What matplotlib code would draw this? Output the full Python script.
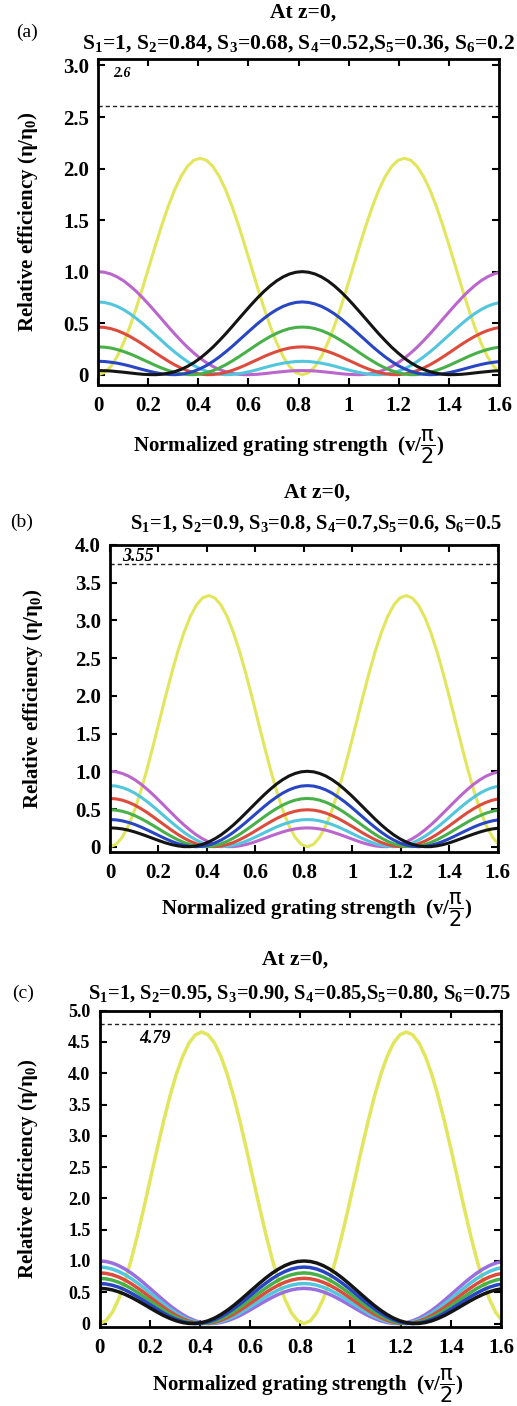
import numpy as np
import matplotlib
matplotlib.use('Agg')
import matplotlib.pyplot as plt

plt.rcParams['font.family'] = ['Liberation Serif', 'DejaVu Serif']
plt.rcParams['font.weight'] = 'bold'
plt.rcParams['mathtext.fontset'] = 'custom'
plt.rcParams['mathtext.rm'] = 'Liberation Serif:bold'
plt.rcParams['mathtext.bf'] = 'Liberation Serif:bold'
plt.rcParams['mathtext.it'] = 'DejaVu Sans:normal'
plt.rcParams['mathtext.sf'] = 'DejaVu Sans:normal'

# normalized grating strength grid (one period of the centre core ~0.815)
x = np.linspace(0, 1.63, 65)

# ---- panel (a): S = 1, 0.84, 0.68, 0.52, 0.36, 0.2
yel_a = [0.000, 0.020, 0.080, 0.177, 0.308, 0.467, 0.648, 0.845, 1.050, 1.255, 1.452, 1.633, 1.793, 1.923, 2.020, 2.080, 2.100,
         2.080, 2.020, 1.923, 1.793, 1.633, 1.452, 1.255, 1.050, 0.845, 0.648, 0.467, 0.308, 0.177, 0.080, 0.020, 0.000,
         0.020, 0.080, 0.177, 0.308, 0.467, 0.648, 0.845, 1.050, 1.255, 1.452, 1.633, 1.793, 1.923, 2.020, 2.080, 2.100,
         2.080, 2.020, 1.923, 1.793, 1.633, 1.452, 1.255, 1.050, 0.845, 0.648, 0.467, 0.308, 0.177, 0.080, 0.020, 0.000]
pur_a = [1.000, 0.994, 0.977, 0.949, 0.911, 0.863, 0.808, 0.746, 0.679, 0.609, 0.538, 0.466, 0.396, 0.330, 0.267, 0.211, 0.160,
         0.116, 0.080, 0.051, 0.029, 0.014, 0.004, 0.000, 0.001, 0.004, 0.010, 0.017, 0.024, 0.030, 0.036, 0.039, 0.040,
         0.039, 0.036, 0.030, 0.024, 0.017, 0.010, 0.004, 0.001, 0.000, 0.004, 0.014, 0.029, 0.051, 0.080, 0.116, 0.160,
         0.211, 0.267, 0.330, 0.396, 0.466, 0.538, 0.609, 0.679, 0.746, 0.808, 0.863, 0.911, 0.949, 0.977, 0.994, 1.000]
cya_a = [0.706, 0.701, 0.686, 0.663, 0.631, 0.592, 0.546, 0.495, 0.441, 0.385, 0.329, 0.273, 0.221, 0.172, 0.128, 0.089, 0.058,
         0.033, 0.015, 0.004, 0.000, 0.002, 0.009, 0.020, 0.034, 0.050, 0.067, 0.084, 0.099, 0.112, 0.121, 0.128, 0.130,
         0.128, 0.121, 0.112, 0.099, 0.084, 0.067, 0.050, 0.034, 0.020, 0.009, 0.002, 0.000, 0.004, 0.015, 0.033, 0.058,
         0.089, 0.128, 0.172, 0.221, 0.273, 0.329, 0.385, 0.441, 0.495, 0.546, 0.592, 0.631, 0.663, 0.686, 0.701, 0.706]
red_a = [0.462, 0.459, 0.447, 0.428, 0.402, 0.371, 0.335, 0.296, 0.254, 0.212, 0.171, 0.132, 0.096, 0.065, 0.039, 0.019, 0.006,
         0.000, 0.001, 0.009, 0.022, 0.041, 0.064, 0.090, 0.119, 0.147, 0.176, 0.202, 0.225, 0.244, 0.259, 0.267, 0.270,
         0.267, 0.259, 0.244, 0.225, 0.202, 0.176, 0.147, 0.119, 0.090, 0.064, 0.041, 0.022, 0.009, 0.001, 0.000, 0.006,
         0.019, 0.039, 0.065, 0.096, 0.132, 0.171, 0.212, 0.254, 0.296, 0.335, 0.371, 0.402, 0.428, 0.447, 0.459, 0.462]
grn_a = [0.270, 0.267, 0.259, 0.244, 0.225, 0.202, 0.176, 0.147, 0.119, 0.090, 0.064, 0.041, 0.022, 0.009, 0.001, 0.000, 0.006,
         0.019, 0.039, 0.065, 0.096, 0.132, 0.171, 0.212, 0.254, 0.296, 0.335, 0.371, 0.402, 0.428, 0.447, 0.459, 0.462,
         0.459, 0.447, 0.428, 0.402, 0.371, 0.335, 0.296, 0.254, 0.212, 0.171, 0.132, 0.096, 0.065, 0.039, 0.019, 0.006,
         0.000, 0.001, 0.009, 0.022, 0.041, 0.064, 0.090, 0.119, 0.147, 0.176, 0.202, 0.225, 0.244, 0.259, 0.267, 0.270]
blu_a = [0.130, 0.128, 0.121, 0.112, 0.099, 0.084, 0.067, 0.050, 0.034, 0.020, 0.009, 0.002, 0.000, 0.004, 0.015, 0.033, 0.058,
         0.089, 0.128, 0.172, 0.221, 0.273, 0.329, 0.385, 0.441, 0.495, 0.546, 0.592, 0.631, 0.663, 0.686, 0.701, 0.706,
         0.701, 0.686, 0.663, 0.631, 0.592, 0.546, 0.495, 0.441, 0.385, 0.329, 0.273, 0.221, 0.172, 0.128, 0.089, 0.058,
         0.033, 0.015, 0.004, 0.000, 0.002, 0.009, 0.020, 0.034, 0.050, 0.067, 0.084, 0.099, 0.112, 0.121, 0.128, 0.130]
blk_a = [0.040, 0.039, 0.036, 0.030, 0.024, 0.017, 0.010, 0.004, 0.001, 0.000, 0.004, 0.014, 0.029, 0.051, 0.080, 0.116, 0.160,
         0.211, 0.267, 0.330, 0.396, 0.466, 0.538, 0.609, 0.679, 0.746, 0.808, 0.863, 0.911, 0.949, 0.977, 0.994, 1.000,
         0.994, 0.977, 0.949, 0.911, 0.863, 0.808, 0.746, 0.679, 0.609, 0.538, 0.466, 0.396, 0.330, 0.267, 0.211, 0.160,
         0.116, 0.080, 0.051, 0.029, 0.014, 0.004, 0.000, 0.001, 0.004, 0.010, 0.017, 0.024, 0.030, 0.036, 0.039, 0.040]

# ---- panel (b): S = 1, 0.9, 0.8, 0.7, 0.6, 0.5
yel_b = [0.000, 0.032, 0.127, 0.281, 0.488, 0.740, 1.028, 1.340, 1.665, 1.990, 2.302, 2.590, 2.842, 3.049, 3.203, 3.298, 3.330,
         3.298, 3.203, 3.049, 2.842, 2.590, 2.302, 1.990, 1.665, 1.340, 1.028, 0.740, 0.488, 0.281, 0.127, 0.032, 0.000,
         0.032, 0.127, 0.281, 0.488, 0.740, 1.028, 1.340, 1.665, 1.990, 2.302, 2.590, 2.842, 3.049, 3.203, 3.298, 3.330,
         3.298, 3.203, 3.049, 2.842, 2.590, 2.302, 1.990, 1.665, 1.340, 1.028, 0.740, 0.488, 0.281, 0.127, 0.032, 0.000]
pur_b = [1.000, 0.993, 0.971, 0.937, 0.889, 0.831, 0.763, 0.689, 0.609, 0.527, 0.445, 0.364, 0.288, 0.219, 0.157, 0.105, 0.063,
         0.031, 0.011, 0.001, 0.001, 0.011, 0.028, 0.051, 0.079, 0.109, 0.140, 0.169, 0.196, 0.219, 0.236, 0.246, 0.250,
         0.246, 0.236, 0.219, 0.196, 0.169, 0.140, 0.109, 0.079, 0.051, 0.028, 0.011, 0.001, 0.001, 0.011, 0.031, 0.063,
         0.105, 0.157, 0.219, 0.288, 0.364, 0.445, 0.527, 0.609, 0.689, 0.763, 0.831, 0.889, 0.937, 0.971, 0.993, 1.000]
cya_b = [0.810, 0.804, 0.784, 0.753, 0.711, 0.658, 0.599, 0.533, 0.463, 0.392, 0.321, 0.254, 0.191, 0.135, 0.088, 0.050, 0.023,
         0.006, 0.000, 0.005, 0.019, 0.041, 0.071, 0.106, 0.145, 0.185, 0.224, 0.262, 0.295, 0.322, 0.343, 0.356, 0.360,
         0.356, 0.343, 0.322, 0.295, 0.262, 0.224, 0.185, 0.145, 0.106, 0.071, 0.041, 0.019, 0.005, 0.000, 0.006, 0.023,
         0.050, 0.088, 0.135, 0.191, 0.254, 0.321, 0.392, 0.463, 0.533, 0.599, 0.658, 0.711, 0.753, 0.784, 0.804, 0.810]
red_b = [0.640, 0.634, 0.617, 0.589, 0.552, 0.506, 0.454, 0.397, 0.337, 0.277, 0.218, 0.163, 0.114, 0.072, 0.039, 0.015, 0.003,
         0.001, 0.009, 0.028, 0.056, 0.092, 0.135, 0.181, 0.231, 0.281, 0.329, 0.374, 0.413, 0.446, 0.470, 0.485, 0.490,
         0.485, 0.470, 0.446, 0.413, 0.374, 0.329, 0.281, 0.231, 0.181, 0.135, 0.092, 0.056, 0.028, 0.009, 0.001, 0.003,
         0.015, 0.039, 0.072, 0.114, 0.163, 0.218, 0.277, 0.337, 0.397, 0.454, 0.506, 0.552, 0.589, 0.617, 0.634, 0.640]
grn_b = [0.490, 0.485, 0.470, 0.446, 0.413, 0.374, 0.329, 0.281, 0.231, 0.181, 0.135, 0.092, 0.056, 0.028, 0.009, 0.001, 0.003,
         0.015, 0.039, 0.072, 0.114, 0.163, 0.218, 0.277, 0.337, 0.397, 0.454, 0.506, 0.552, 0.589, 0.617, 0.634, 0.640,
         0.634, 0.617, 0.589, 0.552, 0.506, 0.454, 0.397, 0.337, 0.277, 0.218, 0.163, 0.114, 0.072, 0.039, 0.015, 0.003,
         0.001, 0.009, 0.028, 0.056, 0.092, 0.135, 0.181, 0.231, 0.281, 0.329, 0.374, 0.413, 0.446, 0.470, 0.485, 0.490]
blu_b = [0.360, 0.356, 0.343, 0.322, 0.295, 0.262, 0.224, 0.185, 0.145, 0.106, 0.071, 0.041, 0.019, 0.005, 0.000, 0.006, 0.023,
         0.050, 0.088, 0.135, 0.191, 0.254, 0.321, 0.392, 0.463, 0.533, 0.599, 0.658, 0.711, 0.753, 0.784, 0.804, 0.810,
         0.804, 0.784, 0.753, 0.711, 0.658, 0.599, 0.533, 0.463, 0.392, 0.321, 0.254, 0.191, 0.135, 0.088, 0.050, 0.023,
         0.006, 0.000, 0.005, 0.019, 0.041, 0.071, 0.106, 0.145, 0.185, 0.224, 0.262, 0.295, 0.322, 0.343, 0.356, 0.360]
blk_b = [0.250, 0.246, 0.236, 0.219, 0.196, 0.169, 0.140, 0.109, 0.079, 0.051, 0.028, 0.011, 0.001, 0.001, 0.011, 0.031, 0.063,
         0.105, 0.157, 0.219, 0.288, 0.364, 0.445, 0.527, 0.609, 0.689, 0.763, 0.831, 0.889, 0.937, 0.971, 0.993, 1.000,
         0.993, 0.971, 0.937, 0.889, 0.831, 0.763, 0.689, 0.609, 0.527, 0.445, 0.364, 0.288, 0.219, 0.157, 0.105, 0.063,
         0.031, 0.011, 0.001, 0.001, 0.011, 0.028, 0.051, 0.079, 0.109, 0.140, 0.169, 0.196, 0.219, 0.236, 0.246, 0.250]

# ---- panel (c): S = 1, 0.95, 0.90, 0.85, 0.80, 0.75
yel_c = [0.000, 0.045, 0.177, 0.393, 0.683, 1.036, 1.438, 1.875, 2.330, 2.785, 3.222, 3.625, 3.978, 4.267, 4.483, 4.615, 4.660,
         4.615, 4.483, 4.267, 3.978, 3.625, 3.222, 2.785, 2.330, 1.875, 1.438, 1.036, 0.683, 0.393, 0.177, 0.045, 0.000,
         0.045, 0.177, 0.393, 0.683, 1.036, 1.438, 1.875, 2.330, 2.785, 3.222, 3.625, 3.978, 4.267, 4.483, 4.615, 4.660,
         4.615, 4.483, 4.267, 3.978, 3.625, 3.222, 2.785, 2.330, 1.875, 1.438, 1.036, 0.683, 0.393, 0.177, 0.045, 0.000]
pur_c = [1.000, 0.992, 0.967, 0.926, 0.871, 0.804, 0.727, 0.642, 0.553, 0.463, 0.374, 0.289, 0.212, 0.144, 0.087, 0.044, 0.016,
         0.002, 0.002, 0.017, 0.044, 0.083, 0.130, 0.185, 0.244, 0.304, 0.363, 0.418, 0.467, 0.507, 0.538, 0.556, 0.563,
         0.556, 0.538, 0.507, 0.467, 0.418, 0.363, 0.304, 0.244, 0.185, 0.130, 0.083, 0.044, 0.017, 0.002, 0.002, 0.016,
         0.044, 0.087, 0.144, 0.212, 0.289, 0.374, 0.463, 0.553, 0.642, 0.727, 0.804, 0.871, 0.926, 0.967, 0.992, 1.000]
cya_c = [0.903, 0.895, 0.871, 0.832, 0.780, 0.717, 0.644, 0.565, 0.481, 0.397, 0.315, 0.238, 0.168, 0.108, 0.060, 0.026, 0.006,
         0.000, 0.009, 0.032, 0.068, 0.114, 0.169, 0.231, 0.296, 0.362, 0.426, 0.485, 0.538, 0.581, 0.613, 0.633, 0.640,
         0.633, 0.613, 0.581, 0.538, 0.485, 0.426, 0.362, 0.296, 0.231, 0.169, 0.114, 0.068, 0.032, 0.009, 0.000, 0.006,
         0.026, 0.060, 0.108, 0.168, 0.238, 0.315, 0.397, 0.481, 0.565, 0.644, 0.717, 0.780, 0.832, 0.871, 0.895, 0.903]
red_c = [0.810, 0.802, 0.780, 0.744, 0.695, 0.635, 0.566, 0.492, 0.414, 0.337, 0.261, 0.191, 0.130, 0.078, 0.038, 0.012, 0.001,
         0.004, 0.021, 0.052, 0.096, 0.150, 0.213, 0.281, 0.353, 0.424, 0.494, 0.558, 0.614, 0.660, 0.694, 0.715, 0.723,
         0.715, 0.694, 0.660, 0.614, 0.558, 0.494, 0.424, 0.353, 0.281, 0.213, 0.150, 0.096, 0.052, 0.021, 0.004, 0.001,
         0.012, 0.038, 0.078, 0.130, 0.191, 0.261, 0.337, 0.414, 0.492, 0.566, 0.635, 0.695, 0.744, 0.780, 0.802, 0.810]
grn_c = [0.723, 0.715, 0.694, 0.660, 0.614, 0.558, 0.494, 0.424, 0.353, 0.281, 0.213, 0.150, 0.096, 0.052, 0.021, 0.004, 0.001,
         0.012, 0.038, 0.078, 0.130, 0.191, 0.261, 0.337, 0.414, 0.492, 0.566, 0.635, 0.695, 0.744, 0.780, 0.802, 0.810,
         0.802, 0.780, 0.744, 0.695, 0.635, 0.566, 0.492, 0.414, 0.337, 0.261, 0.191, 0.130, 0.078, 0.038, 0.012, 0.001,
         0.004, 0.021, 0.052, 0.096, 0.150, 0.213, 0.281, 0.353, 0.424, 0.494, 0.558, 0.614, 0.660, 0.694, 0.715, 0.723]
blu_c = [0.640, 0.633, 0.613, 0.581, 0.538, 0.485, 0.426, 0.362, 0.296, 0.231, 0.169, 0.114, 0.068, 0.032, 0.009, 0.000, 0.006,
         0.026, 0.060, 0.108, 0.168, 0.238, 0.315, 0.397, 0.481, 0.565, 0.644, 0.717, 0.780, 0.832, 0.871, 0.895, 0.903,
         0.895, 0.871, 0.832, 0.780, 0.717, 0.644, 0.565, 0.481, 0.397, 0.315, 0.238, 0.168, 0.108, 0.060, 0.026, 0.006,
         0.000, 0.009, 0.032, 0.068, 0.114, 0.169, 0.231, 0.296, 0.362, 0.426, 0.485, 0.538, 0.581, 0.613, 0.633, 0.640]
blk_c = [0.563, 0.556, 0.538, 0.507, 0.467, 0.418, 0.363, 0.304, 0.244, 0.185, 0.130, 0.083, 0.044, 0.017, 0.002, 0.002, 0.016,
         0.044, 0.087, 0.144, 0.212, 0.289, 0.374, 0.463, 0.553, 0.642, 0.727, 0.804, 0.871, 0.926, 0.967, 0.992, 1.000,
         0.992, 0.967, 0.926, 0.871, 0.804, 0.727, 0.642, 0.553, 0.463, 0.374, 0.289, 0.212, 0.144, 0.087, 0.044, 0.016,
         0.002, 0.002, 0.017, 0.044, 0.083, 0.130, 0.185, 0.244, 0.304, 0.363, 0.418, 0.467, 0.507, 0.538, 0.556, 0.563]

# dashed total-power lines and their labels
total_vals = [2.61, 3.75, 4.79]
total_labels = ['2.6', '3.55', '4.79']
s_lines = ['S$_1$=1, S$_2$=0.84, S$_3$=0.68, S$_4$=0.52,S$_5$=0.36, S$_6$=0.2',
           'S$_1$=1, S$_2$=0.9, S$_3$=0.8, S$_4$=0.7,S$_5$=0.6, S$_6$=0.5',
           'S$_1$=1, S$_2$=0.95, S$_3$=0.90, S$_4$=0.85,S$_5$=0.80, S$_6$=0.75']
xtick_vals = [0, 0.2, 0.4, 0.6, 0.8, 1.0, 1.2, 1.4, 1.6]
xtick_text = ['0', '0.2', '0.4', '0.6', '0.8', '1', '1.2', '1.4', '1.6']

W, H = 517, 1406
fig = plt.figure(figsize=(W / 100, H / 100), dpi=100)
fig.patch.set_facecolor('white')

def fx(px):
    return px / W

def fy(py):
    return 1 - py / H

colors = ['#e2e65c', '#bb66cc', '#52c6dc', '#dc4b3c', '#48b048', '#2846c4', '#141414']

panels = [
    dict(box=(98, 59.3, 499, 385), ylim=(-0.1, 3.06), ymax=3.0, series=[yel_a, pur_a, cya_a, red_a, grn_a, blu_a, blk_a],
         tag='(a)', tag_xy=(27, 32), t1=(303, 13), t2=(298, 44), tsize=15.5, xl=(289, 447), yl=-0.145,
         lab_xy=(0.094, 2.92), lab_size=10, lw=2.2, ysize=15, purple='#bb66cc'),
    dict(box=(110, 545, 497.5, 852.3), ylim=(-0.074, 3.98), ymax=4.0, series=[yel_b, pur_b, cya_b, red_b, grn_b, blu_b, blk_b],
         tag='(b)', tag_xy=(22, 522), t1=(317, 493), t2=(316, 524), tsize=14.8, xl=(317, 910), yl=-0.168,
         lab_xy=(0.114, 3.85), lab_size=13, lw=2.2, ysize=15, purple='#bb66cc'),
    dict(box=(99.5, 1010.7, 501, 1326.7), ylim=(-0.05, 5.0), ymax=5.0, series=[yel_c, pur_c, cya_c, red_c, grn_c, blu_c, blk_c],
         tag='(c)', tag_xy=(23, 993), t1=(295, 960), t2=(300, 994), tsize=14.8, xl=(308, 1386), yl=-0.148,
         lab_xy=(0.221, 4.55), lab_size=13, lw=2.5, ysize=13, purple='#9a6ede'),
]

for i, p in enumerate(panels):
    x0, y0, x1, y1 = p['box']
    ax = fig.add_axes([fx(x0), fy(y1), fx(x1) - fx(x0), (y1 - y0) / H])
    cols = list(colors)
    cols[1] = p['purple']
    for ys, c in zip(p['series'], cols):
        ax.plot(x, ys, color=c, lw=p['lw'], solid_capstyle='round')
    ax.axhline(total_vals[i], color='#222222', lw=1.0, ls=(0, (3, 2.2)))
    ax.text(p['lab_xy'][0], p['lab_xy'][1], total_labels[i], ha='center', va='center',
            style='italic', weight='bold', fontsize=p['lab_size'])

    ax.set_xlim(0, 1.6)
    ax.set_ylim(*p['ylim'])
    ax.set_xticks(xtick_vals)
    ax.set_xticklabels(xtick_text)
    yt = np.arange(0, p['ymax'] + 0.01, 0.5)
    ax.set_yticks(yt)
    ax.set_yticklabels(['0'] + ['%.1f' % v for v in yt[1:]])
    ax.tick_params(axis='both', direction='in', top=True, right=True, length=5, width=1.5)
    ax.tick_params(axis='x', labelsize=15, pad=8)
    ax.tick_params(axis='y', labelsize=p['ysize'], pad=6.5)
    for lab in ax.get_xticklabels() + ax.get_yticklabels():
        lab.set_fontweight('bold')
    for s in ax.spines.values():
        s.set_linewidth(2)

    ax.set_ylabel('Relative efficiency (η/η$_0$)', fontsize=15, fontweight='bold')
    ax.yaxis.set_label_coords(p['yl'], 0.5)

    fig.text(fx(p['xl'][0]), fy(p['xl'][1]), r'Normalized grating strength  (v/$\dfrac{\pi}{\mathsf{2}}$)',
             ha='center', va='center', fontsize=15, fontweight='bold')
    fig.text(fx(p['t1'][0]), fy(p['t1'][1]), 'At z=0,', ha='center', va='center', fontsize=15.5, fontweight='bold')
    fig.text(fx(p['t2'][0]), fy(p['t2'][1]), s_lines[i], ha='center', va='center', fontsize=p['tsize'], fontweight='bold')
    fig.text(fx(p['tag_xy'][0]), fy(p['tag_xy'][1]), p['tag'], ha='center', va='center', fontsize=14, fontweight='normal')

fig.savefig('out.png', dpi=100, facecolor='white')
